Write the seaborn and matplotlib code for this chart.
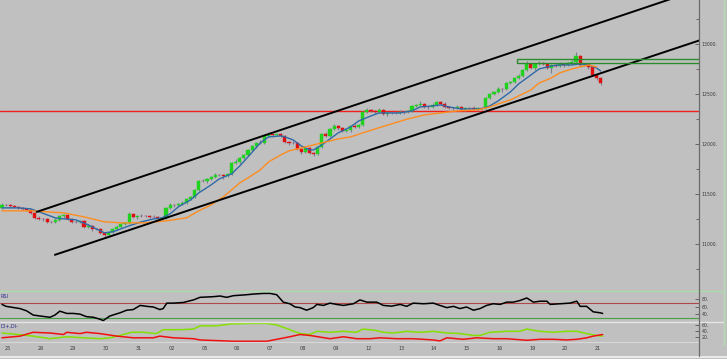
import numpy as np
import pandas as pd
import matplotlib
matplotlib.use("Agg")
import matplotlib.pyplot as plt
import matplotlib.transforms as mtransforms
from matplotlib.patches import Rectangle
from matplotlib.lines import Line2D
import seaborn as sns

# ---------------- data ----------------
day_labels = ['25', '26', '29', '30', '31', '02', '05', '06', '07', '08',
              '09', '12', '13', '14', '15', '16', '19', '20', '21']
day_pos = [0, 8, 16, 24, 32, 40, 48, 56, 64, 72, 80, 88, 96, 104, 112, 120, 128, 136, 144]

opens = [11360, 11390, 11390, 11380, 11370, 11360, 11350, 11340, 11310, 11260,
         11250, 11250, 11220, 11220, 11240, 11280, 11290, 11250, 11220, 11220,
         11230, 11170, 11180, 11150, 11150, 11110, 11090, 11120, 11150, 11170,
         11200, 11210, 11300, 11270, 11280, 11280, 11280, 11270, 11270, 11250,
         11260, 11360, 11390, 11390, 11400, 11410, 11450, 11470, 11540, 11630,
         11630, 11650, 11670, 11690, 11690, 11680, 11700, 11810, 11820, 11860,
         11890, 11940, 11980, 12010, 12010, 12080, 12100, 12090, 12100, 12080,
         12020, 12010, 12010, 11950, 11920, 11960, 11910, 11900, 11970, 12100,
         12080, 12150, 12180, 12160, 12130, 12140, 12180, 12170, 12190, 12320,
         12340, 12330, 12320, 12340, 12300, 12310, 12310, 12310, 12320, 12320,
         12330, 12380, 12390, 12400, 12370, 12370, 12390, 12420, 12400, 12370,
         12360, 12360, 12370, 12350, 12360, 12360, 12350, 12360, 12360, 12460,
         12500, 12520, 12550, 12550, 12610, 12620, 12660, 12680, 12740, 12800,
         12760, 12800, 12810, 12800, 12760, 12790, 12780, 12800, 12790, 12810,
         12820, 12880, 12790, 12800, 12770, 12690, 12660]
closes = [11390, 11390, 11380, 11370, 11360, 11350, 11340, 11310, 11260, 11250,
          11250, 11220, 11220, 11240, 11280, 11290, 11250, 11220, 11220, 11230,
          11170, 11180, 11150, 11150, 11110, 11090, 11120, 11150, 11170, 11200,
          11210, 11300, 11270, 11280, 11280, 11280, 11270, 11270, 11250, 11260,
          11360, 11390, 11390, 11400, 11410, 11450, 11470, 11540, 11630, 11630,
          11650, 11670, 11690, 11690, 11680, 11700, 11810, 11820, 11860, 11890,
          11940, 11980, 12010, 12010, 12080, 12100, 12090, 12100, 12080, 12020,
          12010, 12010, 11950, 11920, 11960, 11910, 11900, 11970, 12100, 12080,
          12150, 12180, 12160, 12130, 12140, 12180, 12170, 12190, 12320, 12340,
          12330, 12320, 12340, 12300, 12310, 12310, 12310, 12320, 12320, 12330,
          12380, 12390, 12400, 12370, 12370, 12390, 12420, 12400, 12370, 12360,
          12360, 12370, 12350, 12360, 12360, 12350, 12360, 12360, 12460, 12500,
          12520, 12550, 12550, 12610, 12620, 12660, 12680, 12740, 12800, 12760,
          12800, 12810, 12800, 12760, 12790, 12780, 12800, 12790, 12810, 12820,
          12880, 12790, 12800, 12770, 12690, 12660, 12610]
wick_up = [20, 10, 10, 10, 10, 10, 10, 10, 10, 20, 10, 10, 10, 20, 10, 10, 10, 10, 20, 10,
           10, 20, 10, 10, 10, 10, 10, 10, 20, 10, 10, 20, 10, 10, 20, 10, 10, 20, 10, 10,
           10, 20, 10, 10, 20, 10, 10, 10, 10, 20, 10, 10, 20, 10, 10, 10, 10, 30, 10, 10,
           10, 10, 10, 30, 20, 20, 10, 10, 10, 10, 10, 20, 10, 10, 10, 10, 10, 10, 10, 20,
           10, 20, 10, 10, 10, 10, 20, 10, 10, 20, 10, 10, 20, 10, 10, 10, 10, 20, 10, 10,
           10, 10, 30, 10, 10, 20, 10, 10, 20, 10, 10, 20, 10, 10, 10, 20, 10, 10, 10, 10,
           10, 20, 10, 10, 10, 10, 20, 10, 30, 10, 10, 20, 10, 10, 10, 10, 20, 10, 10, 20,
           40, 10, 10, 10, 10, 10, 10]
wick_dn = [10, 10, 20, 10, 10, 10, 10, 10, 10, 10, 20, 10, 10, 10, 10, 20, 10, 10, 10, 10,
           10, 10, 20, 10, 10, 20, 10, 10, 10, 10, 10, 10, 10, 20, 10, 10, 10, 10, 20, 10,
           10, 10, 20, 10, 10, 10, 10, 10, 10, 10, 20, 10, 10, 10, 30, 10, 10, 10, 10, 10,
           10, 10, 20, 10, 10, 10, 20, 10, 10, 10, 20, 10, 10, 20, 10, 10, 20, 10, 10, 10,
           10, 10, 20, 10, 10, 20, 10, 10, 10, 10, 10, 20, 10, 10, 20, 10, 10, 10, 20, 10,
           10, 10, 10, 10, 20, 10, 10, 10, 10, 10, 20, 10, 10, 20, 10, 10, 20, 10, 10, 10,
           10, 10, 30, 10, 10, 10, 10, 10, 10, 10, 20, 10, 10, 10, 50, 10, 10, 20, 10, 10,
           10, 10, 10, 20, 10, 20, 20]

blue_x = [0, 4, 7, 9, 11, 13, 15, 18, 21, 23, 25, 27, 29, 31, 34, 37, 39, 41, 43, 46, 48,
          51, 53, 56, 58, 60, 63, 65, 68, 69, 71, 73, 75, 76, 78, 80, 82, 85, 87, 90, 92,
          97, 100, 102, 105, 107, 109, 112, 117, 119, 121, 124, 126, 129, 131, 134, 136,
          139, 141, 143, 145, 146]
blue_y = [11360, 11360, 11350, 11320, 11290, 11260, 11250, 11240, 11190, 11150, 11110,
          11120, 11150, 11180, 11220, 11250, 11260, 11300, 11370, 11440, 11510, 11590,
          11650, 11700, 11780, 11870, 12010, 12070, 12080, 12070, 12040, 11980, 11940,
          11940, 11990, 12050, 12110, 12170, 12230, 12280, 12310, 12310, 12330, 12370,
          12380, 12390, 12370, 12350, 12350, 12380, 12430, 12520, 12600, 12690, 12750,
          12780, 12790, 12790, 12800, 12790, 12760, 12730]
orange_x = [0, 7, 15, 20, 25, 29, 35, 40, 45, 48, 51, 54, 56, 58, 60, 63, 65, 68, 70,
            73, 76, 79, 82, 85, 88, 91, 95, 99, 103, 107, 111, 116, 119, 121, 124, 126,
            129, 131, 134, 136, 139, 141, 143, 145]
orange_y = [11330, 11330, 11310, 11270, 11220, 11210, 11210, 11230, 11260, 11330, 11390,
            11470, 11540, 11610, 11660, 11740, 11820, 11890, 11930, 11960, 11990, 12020,
            12050, 12070, 12110, 12150, 12200, 12250, 12290, 12310, 12330, 12340, 12370,
            12400, 12440, 12480, 12540, 12610, 12660, 12710, 12750, 12770, 12790, 12770]

upper_chan_x = [8.5, 165]
upper_chan_y = [11320, 13476]
lower_chan_x = [12.9, 171]
lower_chan_y = [10890, 13048]
red_level = 12330
box_x0 = 125.6
box_lo, box_hi = 12810, 12850
price_ticks = [11000, 11500, 12000, 12500, 13000]

rsi_x = [0, 1, 3, 4.4, 6, 7.6, 9.3, 11.7, 12.9, 14.1, 15.8, 17.4, 19, 20.6, 22.3, 23.9,
         24.7, 26.3, 28.8, 30.4, 32, 33.7, 35.3, 36.9, 38.5, 39.3, 40.2, 41.8, 44.2, 46.7,
         48.3, 51.5, 53.2, 54.8, 56.4, 59.7, 61.3, 63.7, 65.4, 67, 68.6, 70.2, 71.5, 72.7,
         74.3, 75.9, 76.8, 78.4, 80, 81.6, 83.3, 85.7, 87.3, 89, 91.4, 93, 95, 97.1, 98.7,
         100.3, 102.8, 105.2, 106.8, 108.5, 110.1, 111.7, 113.3, 115, 116.6, 118.2, 119.8,
         121.5, 123.1, 124.7, 126.3, 128, 129.6, 131.2, 132.9, 133.7, 136.1, 138.5, 140.2,
         141, 142.6, 144.2, 145.9, 146.5]
rsi_v = [66.6, 61.5, 58, 55.6, 49.6, 38.5, 36, 32.6, 38.5, 48.8, 42.8, 42.8, 41, 34.3, 32.6,
         27.5, 24, 36, 44.5, 51.3, 53, 64, 61.5, 59.8, 53, 55.6, 70, 70, 71.7, 78.5, 85.3, 87,
         88.8, 85.3, 89.6, 92.2, 93.9, 95.6, 95.6, 92.2, 72.6, 68.3, 59.8, 58.1, 51.3, 58.1,
         66.6, 64, 70, 66.6, 64, 68.3, 78.5, 72.6, 72.6, 64, 62, 66.6, 61.5, 70, 68.3, 70,
         64, 58.1, 61.5, 55.6, 59.8, 51.3, 55.6, 64, 68.3, 66.6, 72.6, 72.6, 76.8, 83.6,
         72.6, 75.1, 75.1, 66.6, 68.3, 70, 75.1, 61.5, 61.5, 47, 44.5, 42.8]

pdi_x = [0, 4, 7.6, 11.7, 15.8, 19.8, 23.9, 26.3, 28.8, 31.6, 34.5, 37.7, 39.3, 43.4, 46.7,
         48.3, 52.3, 55.6, 60.5, 64.6, 67, 70.2, 72.7, 75.1, 76.8, 80, 83.3, 86.5, 88, 91,
         93, 95.5, 98.7, 102, 105.2, 108.5, 111.7, 115, 116.6, 119, 123.1, 126.3, 128,
         131.2, 134.5, 137.7, 140.2, 142.6, 145, 146.5]
pdi_v = [33, 28, 22.6, 14, 20.5, 17, 14, 17, 24.8, 35.4, 35.4, 31, 44, 44, 46, 56.8, 56.8,
         63, 65, 65, 60, 44, 31, 28, 38.6, 35.4, 38.6, 35.4, 46, 42, 35.4, 33, 38.6, 35.4,
         38.6, 33, 31, 24.8, 24.8, 35.4, 38.6, 38.6, 46, 38.6, 35.4, 38.6, 38.6, 31, 24.8,
         22.6]
mdi_x = [0, 4.4, 7.6, 11.7, 15, 15.8, 19, 20.6, 23.9, 28, 32, 36.9, 38.5, 41.8, 46.7, 48.3,
         56.4, 64.6, 67.8, 70.2, 72.7, 75.1, 80, 83.3, 86.5, 89.8, 92.2, 96.3, 100.3, 105.2,
         106.8, 108.5, 112.5, 115.8, 119.8, 123.1, 128, 131.2, 134.5, 137.7, 140.2, 142.6,
         144.2, 146.5]
mdi_v = [17, 22.6, 35.4, 33, 28, 35.4, 31, 35.4, 31, 22.6, 17, 17, 22.6, 17, 14, 9.8, 5.5,
         5.5, 14, 20.5, 28, 24.8, 14, 20.5, 14, 14, 17, 14, 14, 9.8, 6.6, 17, 12, 17, 14, 14,
         8.7, 12, 12, 9.8, 12, 17, 22.6, 28]

# ---------------- styling ----------------
sns.set_style("white")
plt.rcParams['font.family'] = ['DejaVu Sans']
BG = '#c0c0c0'
GREEN_C = '#1ed21e'
RED_C = '#e01010'
WICK_C = '#7c7c98'
TXT = '#3a3a3a'

W, H = 727, 359
fig = plt.figure(figsize=(W / 100, H / 100), dpi=100, facecolor=BG)


def rect(x0, y0, x1, y1):
    return [x0 / W, 1 - y1 / H, (x1 - x0) / W, (y1 - y0) / H]


ax = fig.add_axes(rect(0, 0, 699, 290.5))
ax_rsi = fig.add_axes(rect(0, 291.5, 699, 321.5))
ax_adx = fig.add_axes(rect(0, 322.5, 699, 342))
XL = (-0.49, 170)
for a in (ax, ax_rsi, ax_adx):
    a.set_facecolor(BG)
    a.set_xlim(*XL)
    for s in a.spines.values():
        s.set_visible(False)
    a.yaxis.tick_right()
    a.tick_params(axis='y', which='both', direction='in', length=3, width=0.6,
                  colors='#555555', labelsize=3.3, pad=2, labelcolor=TXT)

# ---------------- main panel ----------------
df = pd.DataFrame({'i': np.arange(len(closes)), 'o': opens, 'c': closes,
                   'up': wick_up, 'dn': wick_dn})
df['top'] = df[['o', 'c']].max(axis=1)
df['bot'] = df[['o', 'c']].min(axis=1)
df['hi'] = df['top'] + df['up']
df['lo'] = df['bot'] - df['dn']
ax.vlines(df['i'], df['lo'], df['hi'], color=WICK_C, lw=0.8, zorder=3)
body_h = (df['top'] - df['bot']).clip(lower=6)
cols = np.where(df['c'] > df['o'], GREEN_C, np.where(df['c'] < df['o'], RED_C, '#a05070'))
ax.bar(df['i'], body_h, bottom=df['bot'] - np.where(df['top'] == df['bot'], 3, 0),
       width=0.75, color=cols, edgecolor=cols, linewidth=0.3, zorder=4)

sns.lineplot(x=blue_x, y=blue_y, ax=ax, color='#2f6aa8', lw=1.0, estimator=None,
             sort=False, zorder=5)
sns.lineplot(x=orange_x, y=orange_y, ax=ax, color='#ff8c1f', lw=1.0, estimator=None,
             sort=False, zorder=5)
ax.plot(upper_chan_x, upper_chan_y, color='black', lw=1.4, zorder=6)
ax.plot(lower_chan_x, lower_chan_y, color='black', lw=1.4, zorder=6)
ax.axhline(red_level, color='#f02020', lw=1.0, zorder=2)
ax.add_patch(Rectangle((box_x0, box_lo), 80, box_hi - box_lo, fill=False,
                       ec='#2e8a2e', lw=1.0, zorder=6))
ax.set_ylim(10533, 13440)
ax.set_yticks(price_ticks)
ax.set_yticklabels([f'{v}.' for v in price_ticks])
ax.set_yticks([10750, 11250, 11750, 12250, 12750, 13250], minor=True)
ax.tick_params(axis='y', which='minor', length=2)
ax.set_xticks([])
ax.set_xlabel('')
ax.set_ylabel('')

# ---------------- RSI panel ----------------
ax_rsi.axhline(70, color='#b04848', lw=0.8)
ax_rsi.axhline(30, color='#4aa04a', lw=0.8)
sns.lineplot(x=rsi_x, y=rsi_v, ax=ax_rsi, color='black', lw=1.1, estimator=None, sort=False)
ax_rsi.set_ylim(21.5, 100.7)
ax_rsi.set_yticks([40, 60, 80])
ax_rsi.set_yticklabels(['40.', '60.', '80.'])
ax_rsi.set_xticks([])
ax_rsi.set_xlabel('')
ax_rsi.set_ylabel('')
ax_rsi.text(0.001, 0.93, 'RSI', transform=ax_rsi.transAxes, fontsize=3.5,
            color='#2b2b8a', va='top', ha='left')

# ---------------- ADX panel ----------------
sns.lineplot(x=pdi_x, y=pdi_v, ax=ax_adx, color='#84e000', lw=1.1, estimator=None, sort=False)
sns.lineplot(x=mdi_x, y=mdi_v, ax=ax_adx, color='#f01010', lw=1.1, estimator=None, sort=False)
ax_adx.set_ylim(3, 68)
ax_adx.set_yticks([20, 40, 60])
ax_adx.set_yticklabels(['20.', '40.', '60.'])
ax_adx.text(0.001, 0.93, 'DI+,DI-', transform=ax_adx.transAxes, fontsize=3.5,
            color='#2b2b8a', va='top', ha='left')
ax_adx.set_ylabel('')
ax_adx.set_xticks(day_pos)
ax_adx.set_xticklabels(day_labels)
ax_adx.tick_params(axis='x', direction='out', length=11, width=0.6, colors='#606060',
                   labelsize=3.6, pad=-8, labelcolor=TXT)
off = mtransforms.ScaledTranslation(2.5 / 100, 0, fig.dpi_scale_trans)
for lab in ax_adx.get_xticklabels():
    lab.set_ha('left')
    lab.set_transform(lab.get_transform() + off)
ax_adx.set_xlabel('')

# ---------------- frame lines ----------------
def fline(x0, y0, x1, y1, color, lw=1.0):
    fig.add_artist(Line2D([x0 / W, x1 / W], [1 - y0 / H, 1 - y1 / H],
                          transform=fig.transFigure, color=color, lw=lw))

fline(0, 290.8, 723, 290.8, '#a8dca8', 1.0)
fline(0, 321.9, 723, 321.9, '#e4e4e4', 1.0)
fline(0, 342.2, 699, 342.2, '#d8d8d8', 0.8)
fline(0, 356.5, 727, 356.5, '#f2f2f2', 1.2)
fline(699.3, 0, 699.3, 356, '#6a6a6a', 0.9)
fline(723.5, 0, 723.5, 345, '#b4dcb4', 1.0)

fig.savefig('out.png', dpi=100, facecolor=BG)
